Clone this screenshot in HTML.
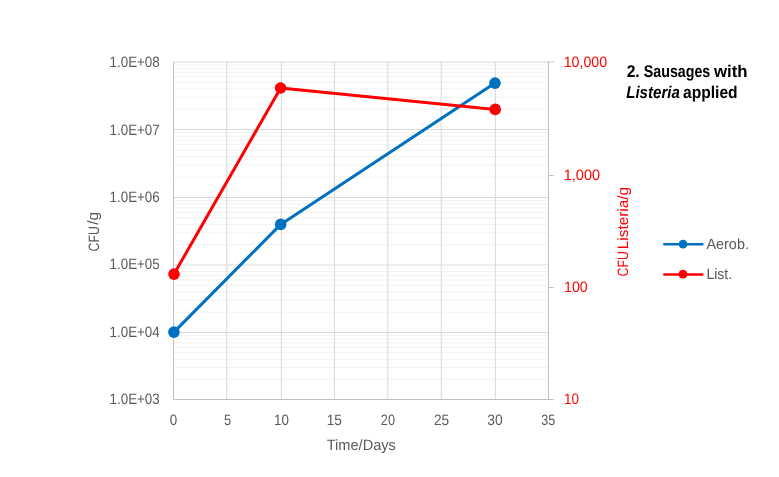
<!DOCTYPE html>
<html><head><meta charset="utf-8"><style>html,body{margin:0;padding:0;background:#fff;width:779px;height:477px;overflow:hidden}svg{display:block;will-change:transform}</style></head>
<body><svg width="779" height="477" viewBox="0 0 779 477" text-rendering="geometricPrecision"><rect x="0" y="0" width="779" height="477" fill="#ffffff"/><path d="M174.00 379.33H547.50 M174.00 367.53H547.50 M174.00 359.16H547.50 M174.00 352.67H547.50 M174.00 347.36H547.50 M174.00 342.88H547.50 M174.00 338.99H547.50 M174.00 335.57H547.50 M174.00 312.18H547.50 M174.00 300.29H547.50 M174.00 291.86H547.50 M174.00 285.32H547.50 M174.00 279.97H547.50 M174.00 275.46H547.50 M174.00 271.54H547.50 M174.00 268.09H547.50 M174.00 244.68H547.50 M174.00 232.79H547.50 M174.00 224.36H547.50 M174.00 217.82H547.50 M174.00 212.47H547.50 M174.00 207.96H547.50 M174.00 204.04H547.50 M174.00 200.59H547.50 M174.00 177.03H547.50 M174.00 165.06H547.50 M174.00 156.56H547.50 M174.00 149.97H547.50 M174.00 144.59H547.50 M174.00 140.03H547.50 M174.00 136.09H547.50 M174.00 132.61H547.50 M174.00 109.18H547.50 M174.00 97.29H547.50 M174.00 88.86H547.50 M174.00 82.32H547.50 M174.00 76.97H547.50 M174.00 72.46H547.50 M174.00 68.54H547.50 M174.00 65.09H547.50" stroke="#F2F2F2" stroke-width="1" fill="none"/><path d="M173.50 332.50H548.50 M173.50 265.00H548.50 M173.50 197.50H548.50 M173.50 129.50H548.50 M173.50 62.00H548.50 M226.80 62.10V399.50 M281.30 62.10V399.50 M334.50 62.10V399.50 M387.80 62.10V399.50 M441.20 62.10V399.50 M495.40 62.10V399.50" stroke="#D9D9D9" stroke-width="1" fill="none"/><path d="M173.50 61.70V399.50 M173.00 399.50H549.00 M548.50 61.70V400.00 M548.50 62.00H554.00 M548.50 175.50H554.00 M548.50 287.50H554.00 M548.50 399.50H554.00" stroke="#BFBFBF" stroke-width="1" fill="none"/><path d="M173.90 332.10 L280.70 224.40 L495.00 83.10" stroke="#0070C0" stroke-width="3" fill="none" stroke-linejoin="round" stroke-linecap="round"/><circle cx="173.90" cy="332.10" r="5.8" fill="#0070C0"/><circle cx="280.70" cy="224.40" r="5.8" fill="#0070C0"/><circle cx="495.00" cy="83.10" r="5.8" fill="#0070C0"/><path d="M174.00 274.10 L280.60 88.00 L495.20 109.40" stroke="#FF0000" stroke-width="3" fill="none" stroke-linejoin="round" stroke-linecap="round"/><circle cx="174.00" cy="274.10" r="5.8" fill="#FF0000"/><circle cx="280.60" cy="88.00" r="5.8" fill="#FF0000"/><circle cx="495.20" cy="109.40" r="5.8" fill="#FF0000"/><text id="L3" x="159.70" y="404.00" font-family="Liberation Sans, sans-serif" font-size="15" fill="#595959" text-anchor="end" textLength="50.11" lengthAdjust="spacingAndGlyphs">1.0E+03</text><text id="L4" x="159.70" y="337.18" font-family="Liberation Sans, sans-serif" font-size="15" fill="#595959" text-anchor="end" textLength="50.11" lengthAdjust="spacingAndGlyphs">1.0E+04</text><text id="L5" x="159.70" y="269.26" font-family="Liberation Sans, sans-serif" font-size="15" fill="#595959" text-anchor="end" textLength="50.11" lengthAdjust="spacingAndGlyphs">1.0E+05</text><text id="L6" x="159.70" y="202.34" font-family="Liberation Sans, sans-serif" font-size="15" fill="#595959" text-anchor="end" textLength="50.11" lengthAdjust="spacingAndGlyphs">1.0E+06</text><text id="L7" x="159.70" y="135.00" font-family="Liberation Sans, sans-serif" font-size="15" fill="#595959" text-anchor="end" textLength="50.11" lengthAdjust="spacingAndGlyphs">1.0E+07</text><text id="L8" x="159.70" y="67.00" font-family="Liberation Sans, sans-serif" font-size="15" fill="#595959" text-anchor="end" textLength="50.11" lengthAdjust="spacingAndGlyphs">1.0E+08</text><text id="R1" x="564.10" y="404.00" font-family="Liberation Sans, sans-serif" font-size="15" fill="#FF0000" textLength="14.99" lengthAdjust="spacingAndGlyphs">10</text><text id="R2" x="564.00" y="292.00" font-family="Liberation Sans, sans-serif" font-size="15" fill="#FF0000" textLength="23.73" lengthAdjust="spacingAndGlyphs">100</text><text id="R3" x="563.80" y="180.37" font-family="Liberation Sans, sans-serif" font-size="15" fill="#FF0000" textLength="36.25" lengthAdjust="spacingAndGlyphs">1,000</text><text id="R4" x="563.70" y="67.00" font-family="Liberation Sans, sans-serif" font-size="15" fill="#FF0000" textLength="43.49" lengthAdjust="spacingAndGlyphs">10,000</text><text id="X0" x="173.45" y="424.70" font-family="Liberation Sans, sans-serif" font-size="15" fill="#595959" text-anchor="middle" textLength="7.44" lengthAdjust="spacingAndGlyphs">0</text><text id="X5" x="227.50" y="424.70" font-family="Liberation Sans, sans-serif" font-size="15" fill="#595959" text-anchor="middle" textLength="7.14" lengthAdjust="spacingAndGlyphs">5</text><text id="X10" x="281.50" y="424.70" font-family="Liberation Sans, sans-serif" font-size="15" fill="#595959" text-anchor="middle" textLength="14.89" lengthAdjust="spacingAndGlyphs">10</text><text id="X15" x="334.25" y="424.70" font-family="Liberation Sans, sans-serif" font-size="15" fill="#595959" text-anchor="middle" textLength="15.19" lengthAdjust="spacingAndGlyphs">15</text><text id="X20" x="387.95" y="424.70" font-family="Liberation Sans, sans-serif" font-size="15" fill="#595959" text-anchor="middle" textLength="14.19" lengthAdjust="spacingAndGlyphs">20</text><text id="X25" x="441.55" y="424.70" font-family="Liberation Sans, sans-serif" font-size="15" fill="#595959" text-anchor="middle" textLength="15.19" lengthAdjust="spacingAndGlyphs">25</text><text id="X30" x="495.05" y="424.70" font-family="Liberation Sans, sans-serif" font-size="15" fill="#595959" text-anchor="middle" textLength="15.39" lengthAdjust="spacingAndGlyphs">30</text><text id="X35" x="548.35" y="424.70" font-family="Liberation Sans, sans-serif" font-size="15" fill="#595959" text-anchor="middle" textLength="13.99" lengthAdjust="spacingAndGlyphs">35</text><text id="time" x="361.30" y="450.10" font-family="Liberation Sans, sans-serif" font-size="15" fill="#595959" text-anchor="middle" textLength="69.19" lengthAdjust="spacingAndGlyphs">Time/Days</text><text id="aerob" x="706.40" y="248.60" font-family="Liberation Sans, sans-serif" font-size="15" fill="#595959" textLength="42.55" lengthAdjust="spacingAndGlyphs">Aerob.</text><text id="list" x="706.40" y="279.40" font-family="Liberation Sans, sans-serif" font-size="15" fill="#595959" textLength="25.79" lengthAdjust="spacingAndGlyphs">List.</text><text id="t1a" x="626.70" y="76.60" font-family="Liberation Sans, sans-serif" font-size="17" fill="#000000" font-weight="bold" textLength="12.99" lengthAdjust="spacingAndGlyphs">2.</text><text id="t1b" x="643.80" y="76.60" font-family="Liberation Sans, sans-serif" font-size="17" fill="#000000" font-weight="bold" textLength="66.49" lengthAdjust="spacingAndGlyphs">Sausages</text><text id="t1c" x="714.00" y="76.60" font-family="Liberation Sans, sans-serif" font-size="17" fill="#000000" font-weight="bold" textLength="33.60" lengthAdjust="spacingAndGlyphs">with</text><text id="t2a" x="626.20" y="97.70" font-family="Liberation Sans, sans-serif" font-size="17" fill="#000000" font-weight="bold" textLength="53.68" lengthAdjust="spacingAndGlyphs"><tspan font-style="italic">Listeria</tspan></text><text id="t2b" x="683.00" y="97.70" font-family="Liberation Sans, sans-serif" font-size="17" fill="#000000" font-weight="bold" textLength="54.62" lengthAdjust="spacingAndGlyphs">applied</text><text id="cga" transform="translate(99.30,251.40) rotate(-90)" font-family="Liberation Sans, sans-serif" font-size="15" fill="#595959" textLength="25.23" lengthAdjust="spacingAndGlyphs">CFU</text><text id="cgb" transform="translate(98.30,224.80) rotate(-90)" font-family="Liberation Sans, sans-serif" font-size="15" fill="#595959" textLength="12.92" lengthAdjust="spacingAndGlyphs">/g</text><text id="cla" transform="translate(628.30,276.40) rotate(-90)" font-family="Liberation Sans, sans-serif" font-size="15" fill="#FF0000" textLength="25.23" lengthAdjust="spacingAndGlyphs">CFU</text><text id="clb" transform="translate(628.00,249.20) rotate(-90)" font-family="Liberation Sans, sans-serif" font-size="15" fill="#FF0000" textLength="62.28" lengthAdjust="spacingAndGlyphs">Listeria/g</text><path d="M664.4 244.3H702.3" stroke="#0070C0" stroke-width="2.6" stroke-linecap="round"/><circle cx="683" cy="244.2" r="4.4" fill="#0070C0"/><path d="M664.4 274.5H702.3" stroke="#FF0000" stroke-width="2.6" stroke-linecap="round"/><circle cx="683" cy="274.2" r="4.4" fill="#FF0000"/></svg></body></html>
